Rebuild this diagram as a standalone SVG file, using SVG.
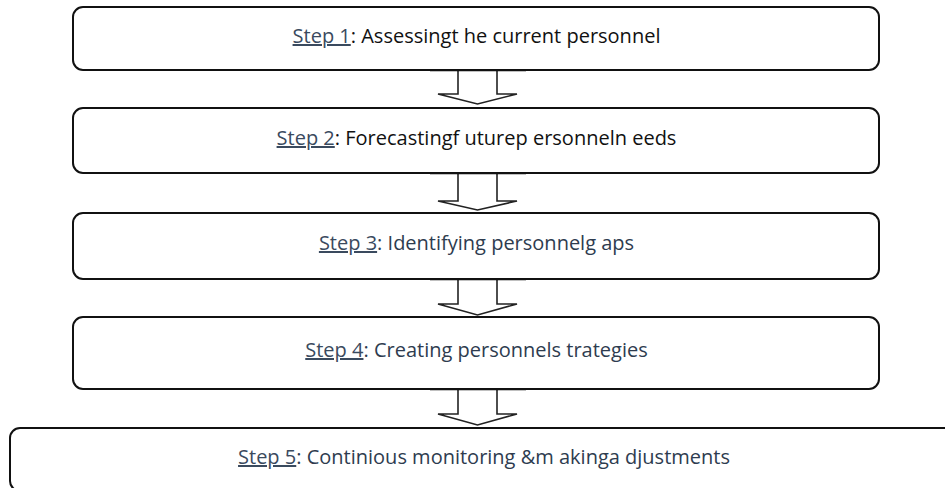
<svg xmlns="http://www.w3.org/2000/svg" width="945" height="488" viewBox="0 0 945 488">
<style>
.box{fill:#fff;stroke:#111;stroke-width:2}
.arr{fill:#fff;stroke:#222;stroke-width:1.6;stroke-linejoin:miter}
.cap{stroke:#000;stroke-width:2.4}
text{font-family:"Open Sans","Liberation Sans",sans-serif;font-size:20px;text-anchor:middle}
.lnk{fill:#3a4a5e;text-decoration:underline}
.dk{fill:#111}
.sl{fill:#2e3c4f}
</style>
<rect width="945" height="488" fill="#fff"/>
<g id="connectors">
<polygon class="arr" points="458,70 458,94 438,94 477.5,104 517,94 497,94 497,70"/>
<line class="cap" x1="430" y1="70" x2="526" y2="70"/>
<polygon class="arr" points="458,173 458,201 438,201 477.5,210 517,201 497,201 497,173"/>
<line class="cap" x1="430" y1="173" x2="526" y2="173"/>
<polygon class="arr" points="458,279 458,304 438,304 477.5,315 517,304 497,304 497,279"/>
<line class="cap" x1="430" y1="279" x2="526" y2="279"/>
<polygon class="arr" points="458,389 458,414 438,414 477.5,425 517,414 497,414 497,389"/>
<line class="cap" x1="430" y1="389" x2="526" y2="389"/>
</g>
<g id="step1">
<rect class="box" x="73" y="7" width="806" height="63" rx="10"/>
<text x="476.5" y="43"><tspan class="lnk">Step 1</tspan><tspan class="dk">: Assessingt he current personnel</tspan></text>
</g>
<g id="step2">
<rect class="box" x="73" y="108" width="806" height="65" rx="10"/>
<text x="476.5" y="145"><tspan class="lnk">Step 2</tspan><tspan class="dk">: Forecastingf uturep ersonneln eeds</tspan></text>
</g>
<g id="step3">
<rect class="box" x="73" y="213" width="806" height="66" rx="10"/>
<text x="476.5" y="250"><tspan class="lnk">Step 3</tspan><tspan class="sl">: Identifying personnelg aps</tspan></text>
</g>
<g id="step4">
<rect class="box" x="73" y="317" width="806" height="72" rx="10"/>
<text x="476.5" y="357"><tspan class="lnk">Step 4</tspan><tspan class="sl">: Creating personnels trategies</tspan></text>
</g>
<g id="step5">
<rect class="box" x="10" y="428" width="948" height="63" rx="10"/>
<text x="484" y="464"><tspan class="lnk">Step 5</tspan><tspan class="sl">: Continious monitoring &amp;m akinga djustments</tspan></text>
</g>
</svg>
